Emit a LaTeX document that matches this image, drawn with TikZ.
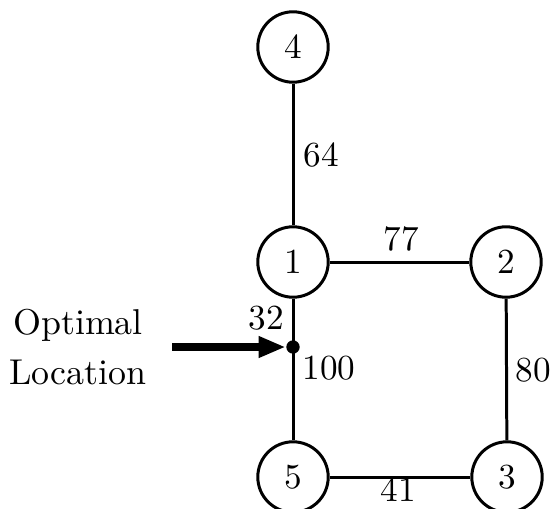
\documentclass[tikz,border=0pt]{standalone}
\usetikzlibrary{arrows.meta}
\begin{document}
\begin{tikzpicture}[x=0.284pt,y=-0.284pt,
  vert/.style={circle,draw,line width=0.85pt,minimum size=20pt,inner sep=0pt},
  edge/.style={line width=0.85pt},
  lbl/.style={inner sep=0pt},
  ptdot/.style={circle,fill,inner sep=0pt,minimum size=3.8pt}]
\useasboundingbox (0,0) rectangle (553,508);
\node[vert] (n4) at (293,47) {4};
\node[vert] (n1) at (293,262) {1};
\node[vert] (n2) at (506,262) {2};
\node[vert] (n5) at (293,477) {5};
\node[vert] (n3) at (507,477) {3};
\node[ptdot] (opt) at (293,347) {};
\draw[edge] (n4) -- (n1);
\draw[edge] (n1) -- (n2);
\draw[edge] (n2) -- (n3);
\draw[edge] (n5) -- (n3);
\draw[edge] (n1) -- (n5);
\node[lbl] (l64) at (321,155) {64};
\node[lbl] (l77) at (401,239) {77};
\node[lbl] (l80) at (533,370) {80};
\node[lbl] (l100) at (329,368) {100};
\node[lbl] (l32) at (266,318) {32};
\node[lbl] (l41) at (398,490) {41};
\node[lbl,align=center,font=\fontsize{10.2}{14.2}\selectfont] (txt) at (78,347) {Optimal\\Location};
\coordinate (astart) at (172,347);
\draw[line width=2pt,-{Triangle[length=27*0.284pt,width=20*0.284pt]}] (astart) -- (opt.west);
\end{tikzpicture}
\end{document}
